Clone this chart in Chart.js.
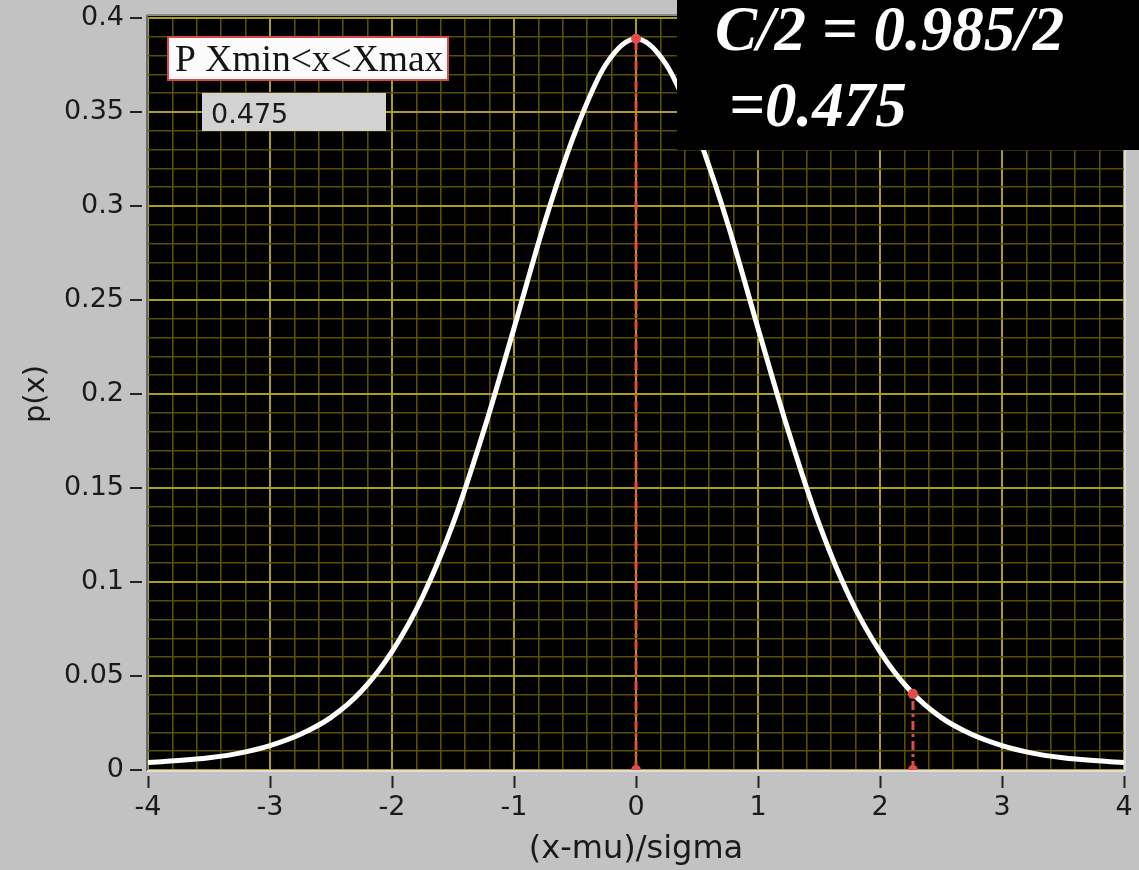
<!DOCTYPE html>
<html><head><meta charset="utf-8">
<script src="https://cdn.jsdelivr.net/npm/chart.js@4.4.1/dist/chart.umd.min.js"></script>
<style>html,body{margin:0;padding:0;background:#c2c2c2;overflow:hidden}</style>
</head><body>
<canvas id="c" width="1139" height="870"></canvas>
<script>
// ---- data ----
const xValues = [-4,-3.75,-3.5,-3.25,-3,-2.75,-2.5,-2.25,-2,-1.75,-1.5,-1.25,-1,-0.75,-0.5,-0.25,0,
                 0.25,0.5,0.75,1,1.25,1.5,1.75,2,2.25,2.5,2.75,3,3.25,3.5,3.75,4];
const pValues = [0.0040,0.0050,0.0065,0.0090,0.0130,0.0190,0.0280,0.0420,0.0630,0.0920,0.1310,0.1800,0.2350,0.2910,0.3390,0.3750,0.3890,
                 0.3750,0.3390,0.2910,0.2350,0.1800,0.1310,0.0920,0.0630,0.0420,0.0280,0.0190,0.0130,0.0090,0.0065,0.0050,0.0040];
const meanX = [0, 0];
const meanP = [0, 0.389];
const critX = [2.27, 2.27];
const critP = [0, 0.0405];
const xTickLabels = ['-4','-3','-2','-1','0','1','2','3','4'];
const yTickLabels = ['0','0.05','0.1','0.15','0.2','0.25','0.3','0.35','0.4'];
const legendText = 'P Xmin<x<Xmax';
const legendValue = '0.475';
const noteLine1 = 'C/2 = 0.985/2';
const noteLine2 = '=0.475';

const isMajorX = v => Math.abs(v - Math.round(v)) < 1e-6;
const isMajorY = v => Math.abs(v / 0.05 - Math.round(v / 0.05)) < 1e-6;

const deco = {
  id: 'deco',
  beforeDraw(chart) {
    const {ctx, chartArea: a} = chart;
    ctx.save();
    ctx.fillStyle = '#c2c2c2';
    ctx.fillRect(0, 0, chart.width, chart.height);
    ctx.fillStyle = '#000';
    ctx.fillRect(a.left, a.top - 2, a.right - a.left, a.bottom - a.top + 2);
    ctx.restore();
  },
  afterDraw(chart) {
    const {ctx, chartArea: a, scales} = chart;
    ctx.save();
    // frame
    ctx.lineWidth = 2;
    ctx.strokeStyle = '#6a6a6a';
    ctx.beginPath(); ctx.moveTo(a.left - 1, a.top - 3); ctx.lineTo(a.left - 1, a.bottom + 1); ctx.stroke();
    ctx.strokeStyle = '#8a8a8a';
    ctx.beginPath(); ctx.moveTo(a.left - 1, a.top - 3); ctx.lineTo(a.right + 1, a.top - 3); ctx.stroke();
    ctx.strokeStyle = '#dedede';
    ctx.beginPath(); ctx.moveTo(a.left - 1, a.bottom + 1); ctx.lineTo(a.right + 1, a.bottom + 1); ctx.stroke();
    ctx.beginPath(); ctx.moveTo(a.right + 1, a.top - 3); ctx.lineTo(a.right + 1, a.bottom + 1); ctx.stroke();
    // tick marks (major only), separated from the frame
    ctx.strokeStyle = '#222';
    ctx.lineWidth = 2;
    xTickLabels.forEach(t => {
      const px = Math.round(scales.x.getPixelForValue(parseFloat(t))) + 0.5;
      ctx.beginPath(); ctx.moveTo(px, a.bottom + 6); ctx.lineTo(px, a.bottom + 18); ctx.stroke();
    });
    yTickLabels.forEach(t => {
      const py = Math.round(scales.y.getPixelForValue(parseFloat(t)));
      ctx.beginPath(); ctx.moveTo(a.left - 18, py); ctx.lineTo(a.left - 6, py); ctx.stroke();
    });
    // legend box
    ctx.fillStyle = '#fbfbfb';
    ctx.fillRect(168, 37, 280, 43);
    ctx.strokeStyle = '#d84a4a';
    ctx.lineWidth = 2;
    ctx.strokeRect(168, 37, 280, 43);
    ctx.fillStyle = '#141414';
    ctx.font = '37.5px "Liberation Serif"';
    ctx.textBaseline = 'alphabetic';
    ctx.textAlign = 'left';
    ctx.fillText(legendText, 175, 71);
    // value box
    ctx.fillStyle = '#d2d2d2';
    ctx.fillRect(202, 93, 184, 38);
    ctx.fillStyle = '#1a1a1a';
    ctx.font = '27px "DejaVu Sans"';
    ctx.fillText(legendValue, 211, 123);
    // black note box
    ctx.fillStyle = '#000';
    ctx.fillRect(677, 0, 462, 150);
    ctx.fillStyle = '#fff';
    ctx.font = 'italic bold 63px "Liberation Serif"';
    ctx.fillText(noteLine1, 715, 50);
    ctx.fillText(noteLine2, 729, 126);
    ctx.restore();
  }
};

const tickFont = {family: 'DejaVu Sans', size: 27};
new Chart(document.getElementById('c'), {
  type: 'line',
  data: {
    datasets: [
      {label: 'mean', data: meanX.map((x, i) => ({x, y: meanP[i]})),
       borderColor: '#e44a4a', backgroundColor: '#e44a4a', borderWidth: 3, borderDash: [9, 4, 3, 4],
       pointRadius: 5, pointBorderWidth: 0, order: 0},
      {label: 'critical', data: critX.map((x, i) => ({x, y: critP[i]})),
       borderColor: '#e44a4a', backgroundColor: '#e44a4a', borderWidth: 3, borderDash: [9, 4, 3, 4],
       pointRadius: 5, pointBorderWidth: 0, order: 0},
      {label: 'p(x)', data: xValues.map((x, i) => ({x, y: pValues[i]})),
       borderColor: '#ffffff', borderWidth: 5, pointRadius: 0, fill: false,
       cubicInterpolationMode: 'monotone', order: 1}
    ]
  },
  options: {
    responsive: false, animation: false, devicePixelRatio: 1,
    layout: {padding: {left: 0, right: 15, top: 18, bottom: 0}},
    plugins: {legend: {display: false}, tooltip: {enabled: false}},
    scales: {
      x: {
        type: 'linear', min: -4, max: 4,
        afterFit(s) { s.height = 100; s.paddingLeft = 0; s.paddingRight = 0; },
        border: {display: false},
        grid: {drawTicks: false,
               color: c => isMajorX(c.tick.value) ? '#aa9f14' : '#574f00',
               lineWidth: c => isMajorX(c.tick.value) ? 2 : 1.6},
        ticks: {stepSize: 0.2, autoSkip: false, maxRotation: 0, padding: 22, font: tickFont, color: '#1a1a1a',
                callback: v => isMajorX(v) ? xTickLabels[Math.round(v) + 4] : ''},
        title: {display: true, text: '(x-mu)/sigma', font: {family: 'DejaVu Sans', size: 32}, color: '#1a1a1a',
                padding: {top: 0, bottom: 1}}
      },
      y: {
        type: 'linear', min: 0, max: 0.4,
        afterFit(s) { s.width = 148; s.paddingTop = 0; s.paddingBottom = 0; },
        border: {display: false},
        grid: {drawTicks: false,
               color: c => isMajorY(c.tick.value) ? '#aa9f14' : '#574f00',
               lineWidth: c => isMajorY(c.tick.value) ? 2 : 1.6},
        ticks: {stepSize: 0.01, autoSkip: false, padding: 24, font: tickFont, color: '#1a1a1a',
                callback: v => isMajorY(v) ? yTickLabels[Math.round(v / 0.05)] : ''},
        title: {display: true, text: 'p(x)', font: {family: 'DejaVu Sans', size: 29}, color: '#1a1a1a',
                padding: {top: 19, bottom: 0}}
      }
    }
  },
  plugins: [deco]
});
</script>
</body></html>
